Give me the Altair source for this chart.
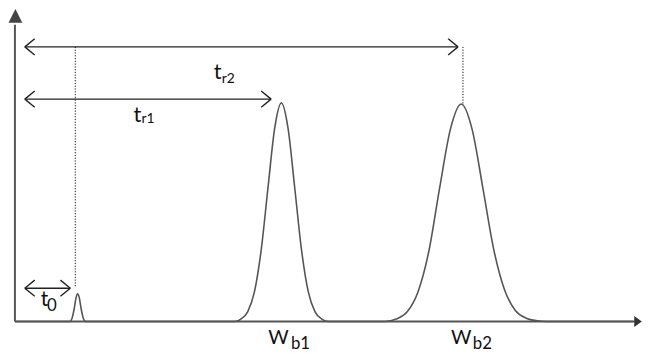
import altair as alt
import pandas as pd

# ---- trace (time in min, signal in arbitrary units) ----
time = [0.0, 0.89, 0.93, 0.96, 0.99, 1.013, 1.04, 1.07, 1.10, 1.14,
        3.55, 3.656, 3.765, 3.874, 3.983, 4.092, 4.201, 4.31, 4.419, 4.528,
        4.637, 4.746, 4.855, 4.964, 5.07,
        5.99, 6.17, 6.345, 6.52, 6.695, 6.87, 7.045, 7.22, 7.395, 7.57,
        7.745, 7.92, 8.095, 8.27, 8.45, 8.6, 10.0]
signal = [0, 0, 2, 6, 11, 12.7, 11, 6, 2, 0,
          0, 1.1, 4.4, 13.5, 32.5, 60.7, 88.2, 100, 88.2, 60.7,
          32.5, 13.5, 4.4, 1.1, 0,
          0, 1.1, 4.4, 13.5, 32, 61, 88, 99.5, 88, 61,
          33, 14.5, 5, 1.5, 0.3, 0, 0]

# ---- annotation arrows (double-headed) ----
arrow_start = [0.16, 0.16, 0.16]
arrow_end = [7.168, 4.144, 0.896]
arrow_level = [125.6, 101.7, 15.2]

# ---- dotted guides ----
guide_x = [0.976, 7.248]
guide_top = [125.6, 125.6]
guide_bottom = [15.8, 99.0]

# ---- labels: base text + subscript ----
label_base = ["t", "t", "t", "W", "W"]
label_sub = ["r2", "r1", "0", "b1", "b2"]
label_x = [3.216, 1.92, 0.416, 4.096, 7.056]
label_y = [110.9, 91.1, 7.2, -10.4, -10.4]
sub_x = [3.344, 2.048, 0.52, 4.464, 7.408]
sub_y = [109.2, 90.8, 5.0, -12.6, -12.6]
base_size = [22, 22, 21, 20, 20]
sub_size = [14, 14, 17, 17, 17]

X_MIN, X_MAX = -0.112, 10.144
Y_MIN, Y_MAX = -13.12, 142.53
W, H = 641, 344

xs = alt.Scale(domain=[X_MIN, X_MAX], nice=False, zero=False)
ys = alt.Scale(domain=[Y_MIN, Y_MAX], nice=False, zero=False)


def X(f):
    return alt.X(f, type="quantitative", scale=xs, axis=None)


def Y(f):
    return alt.Y(f, type="quantitative", scale=ys, axis=None)


# axes lines
axes_df = pd.DataFrame({
    "x": [0.0, 0.0], "y": [0.0, 0.0],
    "x2": [0.0, 10.03], "y2": [135.7, 0.0],
})
axes = alt.Chart(axes_df).mark_rule(color="#555", strokeWidth=2).encode(
    x=X("x"), y=Y("y"), x2="x2", y2="y2")

heads_df = pd.DataFrame({"x": [0.008], "y": [139.8]})
yhead = alt.Chart(heads_df).mark_point(
    shape="M0,-1L1,1L-1,1Z", size=196, filled=True, color="#444", opacity=1
).encode(x=X("x"), y=Y("y"))
xhead_df = pd.DataFrame({"x": [10.08], "y": [0.0]})
xhead = alt.Chart(xhead_df).mark_point(
    shape="M-0.7,-1L0.7,0L-0.7,1Z", size=121, filled=True, color="#333", opacity=1
).encode(x=X("x"), y=Y("y"))

trace_df = pd.DataFrame({"t": time, "s": signal})
trace = alt.Chart(trace_df).mark_line(
    color="#555", strokeWidth=1.6, interpolate="monotone"
).encode(x=X("t"), y=Y("s"))

# arrows built from start/end/level
HX, HY = 0.16, 3.7
segs = []
for a, b, lv in zip(arrow_start, arrow_end, arrow_level):
    segs.append((a, lv, b, lv))
    segs.append((a, lv, a + HX, lv + HY))
    segs.append((a, lv, a + HX, lv - HY))
    segs.append((b, lv, b - HX, lv + HY))
    segs.append((b, lv, b - HX, lv - HY))
seg_df = pd.DataFrame(segs, columns=["x", "y", "x2", "y2"])
arrows = alt.Chart(seg_df).mark_rule(color="#222", strokeWidth=1.4).encode(
    x=X("x"), y=Y("y"), x2="x2", y2="y2")

guide_df = pd.DataFrame({"x": guide_x, "y": guide_top, "y2": guide_bottom})
guides = alt.Chart(guide_df).mark_rule(
    color="#111", strokeWidth=1, strokeDash=[1.2, 1.6]
).encode(x=X("x"), y=Y("y"), y2="y2")

lab_df = pd.DataFrame({
    "base": label_base, "sub": label_sub, "x": label_x, "y": label_y,
    "sx": sub_x, "sy": sub_y, "bs": base_size, "ss": sub_size,
})
base_txt = alt.Chart(lab_df).mark_text(
    align="left", baseline="alphabetic", font="Lato", color="#111"
).encode(x=X("x"), y=Y("y"), text="base:N",
         size=alt.Size("bs:Q", scale=None, legend=None))
sub_txt = alt.Chart(lab_df).mark_text(
    align="left", baseline="alphabetic", font="Lato", color="#111"
).encode(x=X("sx"), y=Y("sy"), text="sub:N",
         size=alt.Size("ss:Q", scale=None, legend=None))

chart = alt.layer(axes, trace, arrows, guides, yhead, xhead, base_txt, sub_txt).properties(
    width=W, height=H, autosize=alt.AutoSizeParams(type="none"), padding=0,
    background="white",
).configure_view(stroke=None)

chart.save("out.html", embed_options={"renderer": "svg", "actions": False})
